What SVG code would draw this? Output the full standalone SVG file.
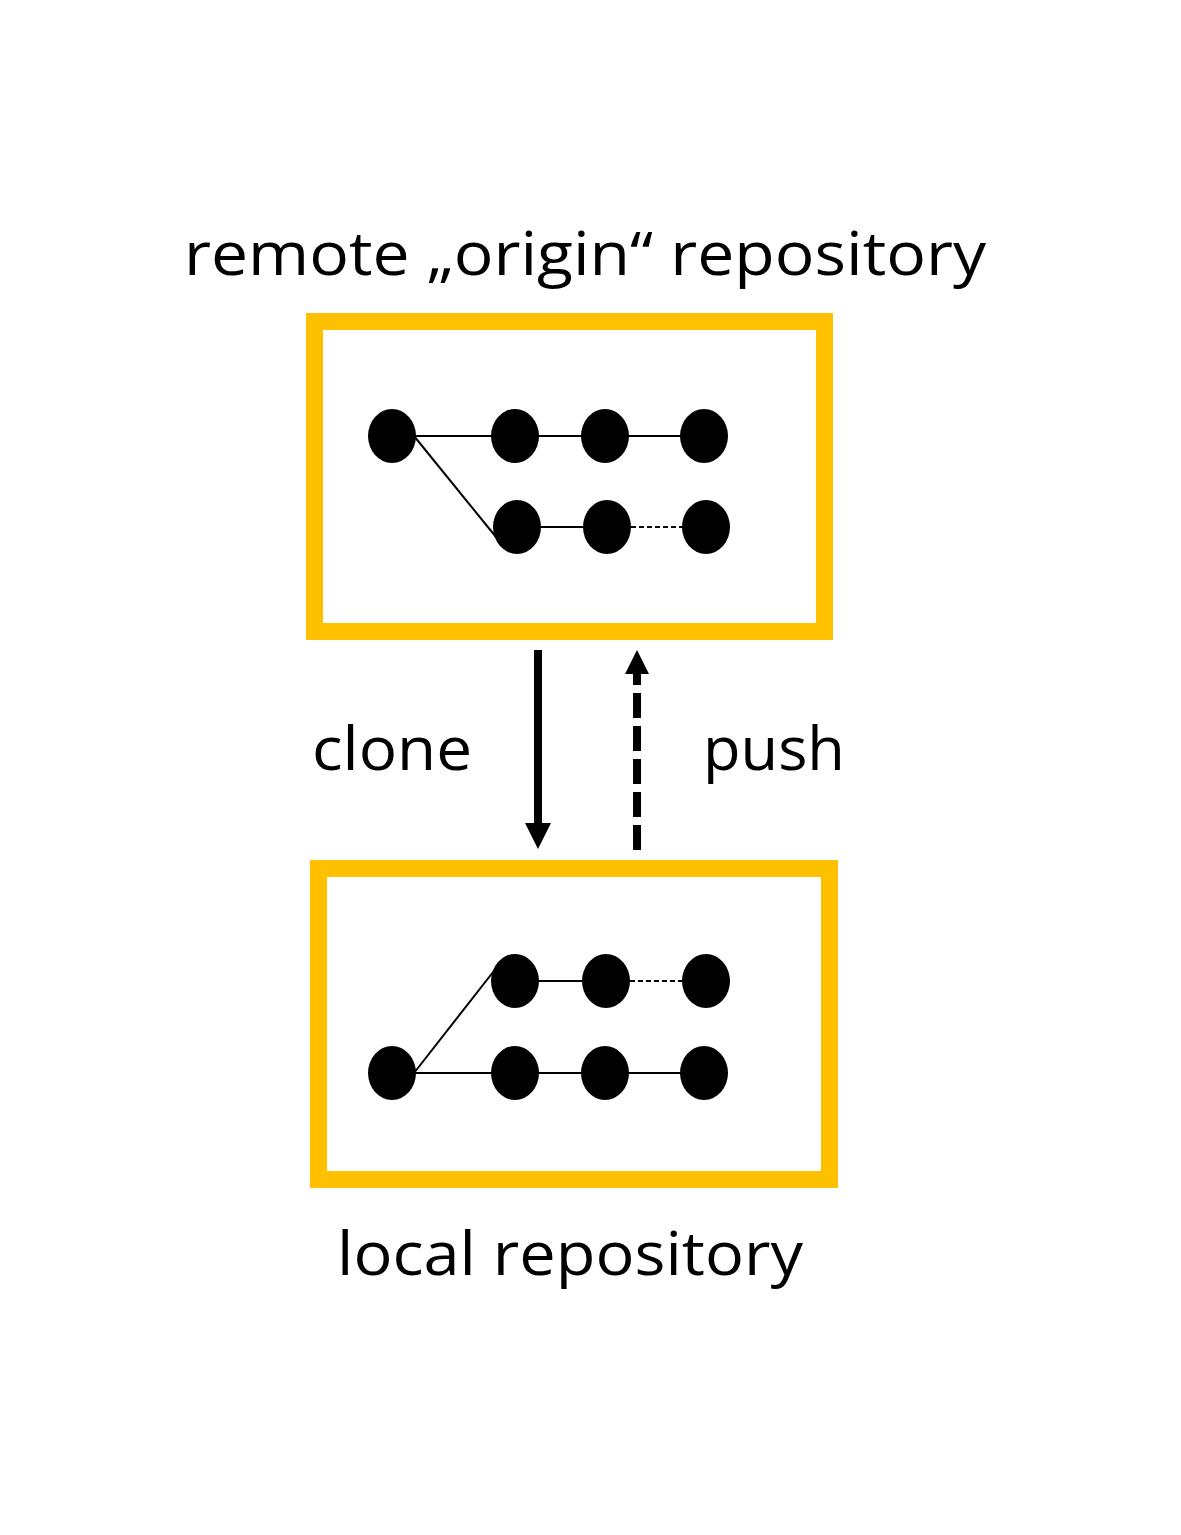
<svg xmlns="http://www.w3.org/2000/svg" width="1181" height="1535" viewBox="0 0 1181 1535">
<style>
.box{fill:#fff;stroke:#FFC000;stroke-width:17}
.dot{fill:#000}
.ln{stroke:#000;stroke-width:2;fill:none}
.dl{stroke:#000;stroke-width:2;stroke-dasharray:5 3;fill:none}
.lbl{font-family:"Open Sans","Liberation Sans",Arial,sans-serif;font-size:60px;fill:#000}
</style>
<rect width="1181" height="1535" fill="#fff"/>
<g id="title"><text class="lbl" x="585" y="275" text-anchor="middle" textLength="802" lengthAdjust="spacingAndGlyphs">remote „origin“ repository</text></g>
<g id="remote">
<rect class="box" x="314.5" y="321.5" width="510" height="310"/>
<line class="ln" x1="392" y1="436" x2="704" y2="436"/>
<line class="ln" x1="414" y1="436" x2="496" y2="537"/>
<line class="ln" x1="517" y1="527" x2="607" y2="527"/>
<line class="dl" x1="631" y1="527" x2="683" y2="527"/>
<ellipse class="dot" cx="392" cy="436" rx="24" ry="27"/>
<ellipse class="dot" cx="515" cy="436" rx="24" ry="27"/>
<ellipse class="dot" cx="605" cy="436" rx="24" ry="27"/>
<ellipse class="dot" cx="704" cy="436" rx="24" ry="27"/>
<ellipse class="dot" cx="517" cy="527" rx="24" ry="27"/>
<ellipse class="dot" cx="607" cy="527" rx="24" ry="27"/>
<ellipse class="dot" cx="706" cy="527" rx="24" ry="27"/>
</g>
<g id="connectors">
<line x1="538" y1="650" x2="538" y2="826" stroke="#000" stroke-width="8"/>
<polygon points="525,823 551,823 538,849" fill="#000"/>
<line x1="637" y1="850" x2="637" y2="672" stroke="#000" stroke-width="8" stroke-dasharray="25 8"/>
<polygon points="625,674 649,674 637,650" fill="#000"/>
<text class="lbl" x="392" y="770" text-anchor="middle" textLength="160" lengthAdjust="spacingAndGlyphs">clone</text>
<text class="lbl" x="774" y="770" text-anchor="middle" textLength="142" lengthAdjust="spacingAndGlyphs">push</text>
</g>
<g id="local">
<rect class="box" x="318.5" y="868.5" width="511" height="311"/>
<line class="ln" x1="392" y1="1073" x2="704" y2="1073"/>
<line class="ln" x1="414" y1="1073" x2="497" y2="967"/>
<line class="ln" x1="515" y1="981" x2="606" y2="981"/>
<line class="dl" x1="630" y1="981" x2="683" y2="981"/>
<ellipse class="dot" cx="515" cy="981" rx="24" ry="27"/>
<ellipse class="dot" cx="606" cy="981" rx="24" ry="27"/>
<ellipse class="dot" cx="706" cy="981" rx="24" ry="27"/>
<ellipse class="dot" cx="392" cy="1073" rx="24" ry="27"/>
<ellipse class="dot" cx="515" cy="1073" rx="24" ry="27"/>
<ellipse class="dot" cx="605" cy="1073" rx="24" ry="27"/>
<ellipse class="dot" cx="704" cy="1073" rx="24" ry="27"/>
</g>
<g id="local-label"><text class="lbl" x="570" y="1275" text-anchor="middle" textLength="466" lengthAdjust="spacingAndGlyphs">local repository</text></g>
</svg>
